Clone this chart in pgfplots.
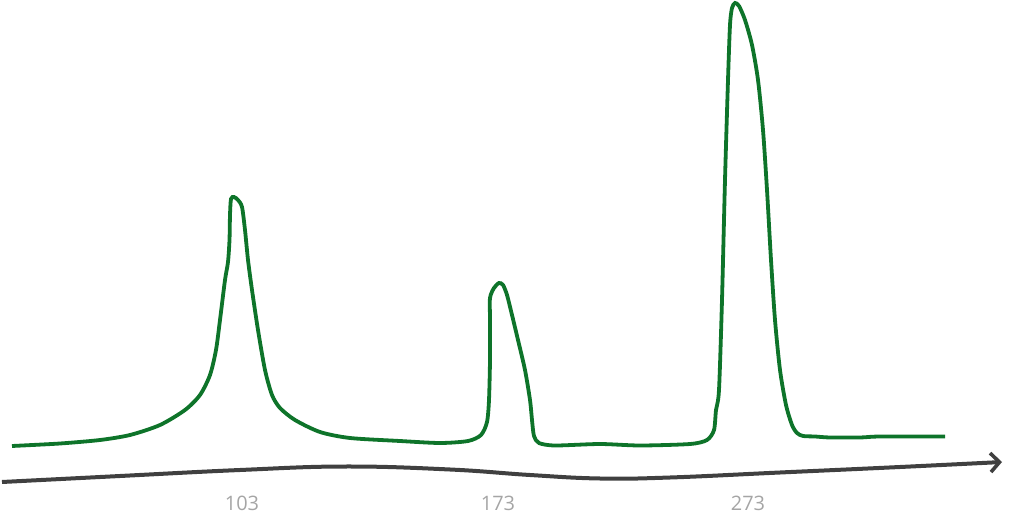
\documentclass[border=0pt]{standalone}
\usepackage{pgfplots}
\pgfplotsset{compat=1.18}
\usepackage{fontspec}
\setmainfont{Open Sans}
\usetikzlibrary{arrows.meta}
\definecolor{peakgreen}{RGB}{14,116,42}
\definecolor{axisgray}{RGB}{64,64,64}
\definecolor{labelgray}{RGB}{165,165,165}
\begin{document}
\begin{tikzpicture}
\begin{axis}[
  scale only axis,
  width=1024bp, height=530bp,
  xmin=0, xmax=1024, ymin=0, ymax=530,
  y dir=reverse,
  hide y axis,
  axis x line*=bottom,
  x axis line style={draw=none},
  xtick={242,498,748},
  xticklabels={\fontsize{20}{20}\selectfont 103,\fontsize{20}{20}\selectfont 173,\fontsize{20}{20}\selectfont 273},
  /pgf/number format/assume math mode=true,
  major tick length=0pt,
  x tick label style={anchor=center, yshift=27bp, text=labelgray},
  clip=false,
]
\addplot[draw=none, forget plot] coordinates {(0,0) (1024,530)};
% x axis (hand-drawn, wavy)
\addplot[axisgray, line width=4bp, smooth, tension=0.7,
  -{Straight Barb[length=9bp,width=19bp,line width=3.6bp]}] coordinates {
  (2,482) (120,476) (240,470) (345,466.5) (450,469.5) (530,475)
  (600,478.5) (670,477.5) (780,472.5) (900,467) (1002,462)};
% green spectrum
\addplot[peakgreen, line width=3.8bp, smooth, tension=0.45] coordinates {
  (12,446) (60,443.5) (100,440) (130,435) (160,425) (185,410) (200,395)
  (210,375) (216,350) (220,320) (225,280) (228,262) (229.5,240) (230,215)
  (231,199) (234,197) (238,200) (242,207) (245,230) (248,260) (252,290)
  (258,330) (265,370) (272,395) (280,408) (295,420) (320,432) (350,438)
  (400,441) (440,443) (468,441) (481,435) (487,422) (489,400) (490,360)
  (490,320) (490,298) (494,288) (499,283) (503,285) (507,295) (512,315)
  (518,340) (525,370) (530,400) (532,420) (534,436) (539,443) (555,445.5)
  (600,444) (640,445.5) (690,444) (707,440) (714,430) (716,410) (719,390)
  (722,300) (725,180) (728,80) (730,25) (732,8) (735,3) (739,6) (745,20)
  (752,45) (758,80) (763,130) (767,190) (771,260) (775,320) (780,370)
  (786,405) (792,425) (797,433) (803,436) (815,436.5) (830,437.5) (860,437.5)
  (880,436.5) (945,436.5)};
\end{axis}
\end{tikzpicture}
\end{document}
